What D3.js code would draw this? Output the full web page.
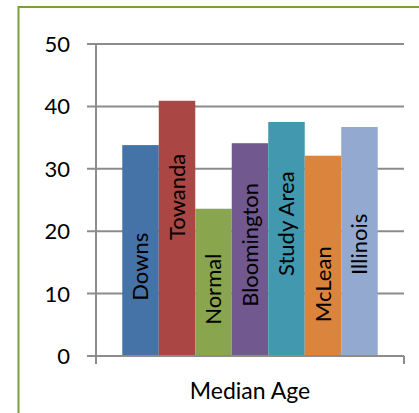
<!DOCTYPE html>
<html>
<head>
<meta charset="utf-8">
<script src="https://cdn.jsdelivr.net/npm/d3@7"></script>
<style>
  body { margin: 0; background: #fff; }
  svg text { font-family: Lato, "Open Sans", sans-serif; fill: #000; }
</style>
</head>
<body>
<div id="chart"></div>
<script>
// data
var places = ["Downs", "Towanda", "Normal", "Bloomington", "Study Area", "McLean", "Illinois"];
var medianAge = [33.8, 40.9, 23.6, 34.1, 37.5, 32.1, 36.7];
var colors = ["#4572A7", "#AA4643", "#89A54E", "#71588F", "#4198AF", "#DB843D", "#93A9CF"];
var yTicks = [0, 10, 20, 30, 40, 50];
var category = "Median Age";
// where each bar label sits (middle of the text, in axis units)
var labelMid = [14.3, 25.5, 10.7, 17.8, 21.2, 11.5, 17.9];

var W = 419, H = 413;
var plotL = 96, plotR = 404, plotT = 44, plotB = 356; // don't use "top", it's window.top

var svg = d3.select("#chart").append("svg")
    .attr("width", W)
    .attr("height", H);

// green frame (right and bottom edges run off the picture)
svg.append("rect")
    .attr("x", 18.5).attr("y", 7)
    .attr("width", 420).attr("height", 420)
    .attr("fill", "none")
    .attr("stroke", "#77A13A")
    .attr("stroke-width", 2);

var y = d3.scaleLinear().domain([0, 50]).range([plotB, plotT]);
var x0 = d3.scaleBand().domain([category]).range([plotL, plotR]);
// 7 bars side by side in the single category
var x1 = d3.scaleBand().domain(places)
    .range([x0(category), x0(category) + x0.bandwidth()])
    .paddingOuter(0.72).paddingInner(0);

// gridlines + ticks
svg.selectAll("line.grid").data(yTicks).enter().append("line")
    .attr("class", "grid")
    .attr("x1", plotL - 9).attr("x2", plotR)
    .attr("y1", function(d) { return y(d); })
    .attr("y2", function(d) { return y(d); })
    .attr("stroke", "#8C8C8C")
    .attr("stroke-width", 2);

svg.selectAll("text.ytick").data(yTicks).enter().append("text")
    .attr("class", "ytick")
    .attr("x", 70)
    .attr("y", function(d) { return y(d); })
    .attr("dy", "0.36em")
    .attr("text-anchor", "end")
    .style("font-size", "22px")
    .text(function(d) { return d; });

// value axis
svg.append("line")
    .attr("x1", plotL).attr("x2", plotL)
    .attr("y1", plotT).attr("y2", plotB + 8)
    .attr("stroke", "#8C8C8C").attr("stroke-width", 2);
// category boundary tick at right
svg.append("line")
    .attr("x1", plotR).attr("x2", plotR)
    .attr("y1", plotB).attr("y2", plotB + 8)
    .attr("stroke", "#8C8C8C").attr("stroke-width", 2);

// bars
var data = places.map(function(p, i) {
    return { name: p, value: medianAge[i], color: colors[i], mid: labelMid[i] };
});

svg.selectAll("rect.bar").data(data).enter().append("rect")
    .attr("class", "bar")
    .attr("x", function(d) { return x1(d.name); })
    .attr("y", function(d) { return y(d.value); })
    .attr("width", x1.bandwidth())
    .attr("height", function(d) { return y(0) - y(d.value); })
    .attr("fill", function(d) { return d.color; });

// redraw the base line above the bars
svg.append("line")
    .attr("x1", plotL - 9).attr("x2", plotR)
    .attr("y1", plotB).attr("y2", plotB)
    .attr("stroke", "#8C8C8C").attr("stroke-width", 2);

// rotated labels inside the bars
svg.selectAll("text.blabel").data(data).enter().append("text")
    .attr("class", "blabel")
    .attr("transform", function(d) {
        var cx = x1(d.name) + x1.bandwidth() / 2;
        return "translate(" + cx + "," + y(d.mid) + ") rotate(-90)";
    })
    .attr("text-anchor", "middle")
    .attr("dy", "0.36em")
    .style("font-size", "22px")
    .text(function(d) { return d.name; });

// category label
svg.append("text")
    .attr("x", (plotL + plotR) / 2)
    .attr("y", 399)
    .attr("text-anchor", "middle")
    .style("font-size", "23px")
    .text(category);
</script>
</body>
</html>
